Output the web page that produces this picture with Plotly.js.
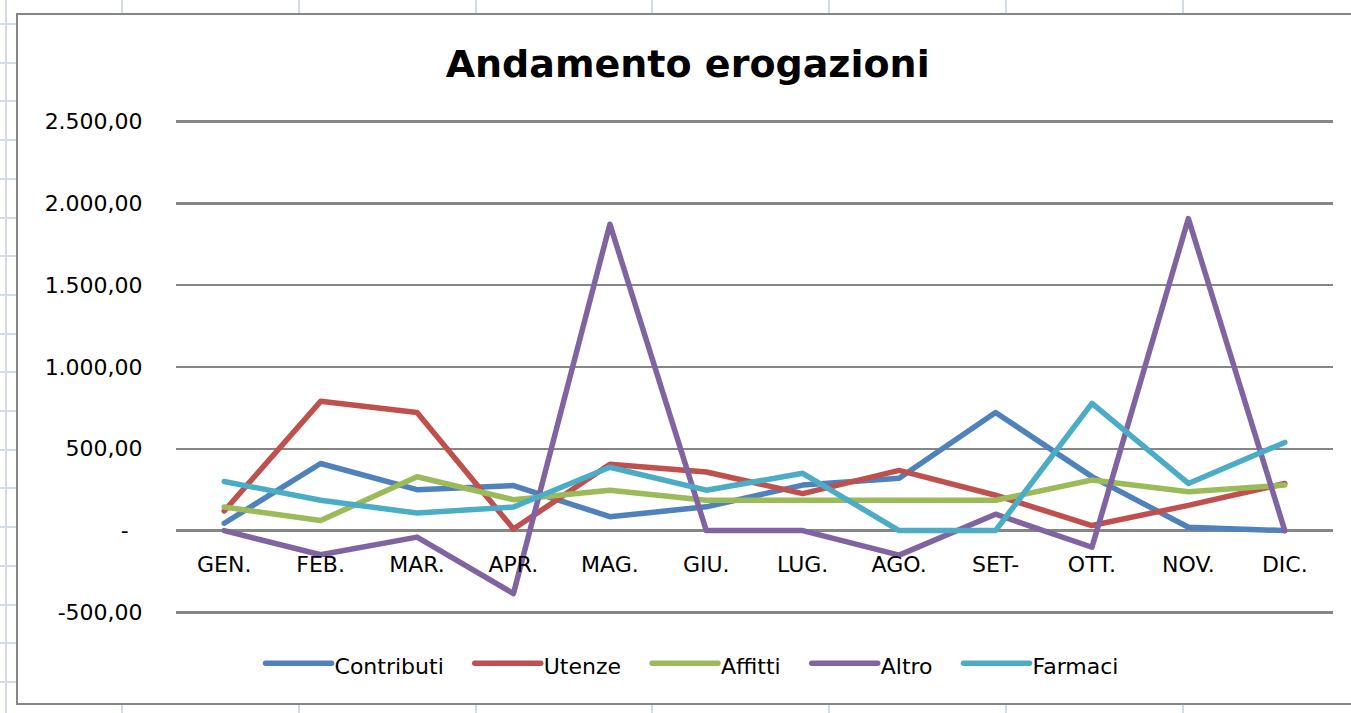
<!DOCTYPE html>
<html>
<head>
<meta charset="utf-8">
<script src="https://cdn.plot.ly/plotly-3.0.1.min.js"></script>
<style>
  html, body { margin: 0; padding: 0; width: 1351px; height: 713px; overflow: hidden; background: #ffffff; }
  #bg { position: absolute; left: 0; top: 0; width: 1351px; height: 713px; }
  .vl { position: absolute; top: 0; width: 2px; height: 713px; background: #D3DAE8; }
  .hl { position: absolute; left: 0; width: 20px; height: 2px; background: #D3DAE8; }
  #frame { position: absolute; left: 16px; top: 13px; width: 1360px; height: 688px; border: 2px solid #868686; background: #ffffff; }
  #chart { position: absolute; left: 0; top: 0; width: 1351px; height: 713px; }
  #chart .js-line { stroke-linejoin: round; stroke-linecap: round; }
  #chart .legendlines path { stroke-linecap: round; }
</style>
</head>
<body>
<div id="bg"></div>
<div id="frame"></div>
<div id="chart"></div>
<script>
// ---- data ----
const months = ['GEN.', 'FEB.', 'MAR.', 'APR.', 'MAG.', 'GIU.', 'LUG.', 'AGO.', 'SET-', 'OTT.', 'NOV.', 'DIC.'];
const contributi = [45, 410, 250, 275, 85, 145, 278, 320, 722, 330, 20, 0];
const utenze = [120, 790, 722, 10, 405, 358, 226, 368, 216, 31, 154, 288];
const affitti = [144, 62, 329, 189, 247, 185, 185, 185, 185, 309, 237, 278];
const altro = [0, -148, -40, -385, 1873, 0, 0, -150, 100, -102, 1907, 0];
const farmaci = [300, 185, 107, 144, 387, 247, 350, 0, 0, 778, 288, 539];

const seriesNames = ['Contributi', 'Utenze', 'Affitti', 'Altro', 'Farmaci'];
const seriesValues = [contributi, utenze, affitti, altro, farmaci];
const seriesColors = ['#4F81BD', '#C0504D', '#9BBB59', '#8064A2', '#4BACC6'];

const yTickVals = [2500, 2000, 1500, 1000, 500, 0, -500];
const yTickText = ['2.500,00', '2.000,00', '1.500,00', '1.000,00', '500,00', '-\u00a0\u00a0', '-500,00'];

// ---- spreadsheet background (decoration) ----
const bg = document.getElementById('bg');
for (let i = 0; i < 9; i++) {
  const d = document.createElement('div');
  d.className = 'vl';
  d.style.left = (i === 0 ? 5 : 121 + (i - 1) * 176.8) + 'px';
  bg.appendChild(d);
}
for (let i = 0; i < 19; i++) {
  const d = document.createElement('div');
  d.className = 'hl';
  d.style.top = (23 + i * 38.7) + 'px';
  bg.appendChild(d);
}

// ---- chart ----
const font = 'DejaVu Sans, sans-serif';
const yRange = [-510, 2510];
const traces = seriesNames.map((n, i) => ({
  type: 'scatter',
  mode: 'lines',
  name: n,
  x: months,
  y: seriesValues[i],
  line: { color: seriesColors[i], width: 5.5 },
  hoverinfo: 'skip'
}));

const layout = {
  width: 1351,
  height: 713,
  paper_bgcolor: 'rgba(0,0,0,0)',
  plot_bgcolor: 'rgba(0,0,0,0)',
  margin: { l: 176, r: 18, t: 120, b: 99 },
  title: {
    text: '<b>Andamento erogazioni</b>',
    font: { family: font, size: 38, color: '#000000' },
    x: 0.509, xref: 'container', xanchor: 'center',
    y: 0.91, yref: 'container', yanchor: 'middle'
  },
  xaxis: {
    type: 'category',
    range: [-0.5, months.length - 0.5],
    anchor: 'free',
    position: (0 - yRange[0]) / (yRange[1] - yRange[0]),
    showgrid: false,
    zeroline: false,
    showline: false,
    ticks: 'outside',
    ticklen: 14,
    tickcolor: 'rgba(0,0,0,0)',
    tickfont: { family: font, size: 22, color: '#000000' },
    fixedrange: true
  },
  yaxis: {
    range: yRange,
    tickvals: yTickVals,
    ticktext: yTickText,
    showgrid: true,
    gridcolor: '#868686',
    gridwidth: 2.5,
    zeroline: false,
    showline: false,
    ticks: 'outside',
    ticklen: 28,
    tickcolor: 'rgba(0,0,0,0)',
    tickfont: { family: font, size: 22, color: '#000000' },
    fixedrange: true
  },
  legend: {
    orientation: 'h',
    x: 0.446, xanchor: 'center',
    y: -0.1, yanchor: 'middle',
    font: { family: font, size: 22, color: '#000000' },
    bgcolor: 'rgba(0,0,0,0)'
  },
  showlegend: true
};

const gd = document.getElementById('chart');
Plotly.newPlot(gd, traces, layout, { staticPlot: true, displayModeBar: false }).then(() => {
  // Excel-style legend: long line swatches, text right after, fixed gap
  const symLen = 66, textPad = 3, gap = 31, centerX = 692;
  gd.querySelectorAll('.legend [clip-path]').forEach(el => el.removeAttribute('clip-path'));
  const items = Array.from(gd.querySelectorAll('.legend .traces'));
  if (!items.length) return;
  const parse = g => {
    const m = (g.getAttribute('transform') || '').match(/translate\(([-\d.e]+)[ ,]*([-\d.e]*)\)/);
    return m ? [parseFloat(m[1]) || 0, parseFloat(m[2]) || 0] : [0, 0];
  };
  const y0 = parse(items[0])[1];
  let x = 0;
  items.forEach(g => {
    const path = g.querySelector('.legendlines path');
    if (path) path.setAttribute('d', 'M0,0h' + symLen);
    const text = g.querySelector('text.legendtext');
    text.setAttribute('x', symLen + textPad);
    g.setAttribute('transform', 'translate(' + x + ',' + y0 + ')');
    const w = text.getComputedTextLength();
    x += symLen + textPad + w + gap;
  });
  const first = items[0].querySelector('.legendlines path').getBoundingClientRect();
  const lastText = items[items.length - 1].querySelector('text.legendtext').getBoundingClientRect();
  const shift = centerX - (first.left + lastText.right) / 2;
  items.forEach(g => {
    const p = parse(g);
    g.setAttribute('transform', 'translate(' + (p[0] + shift) + ',' + p[1] + ')');
    // vertically align text to the swatch line
    const path = g.querySelector('.legendlines path');
    const text = g.querySelector('text.legendtext');
    const pr = path.getBoundingClientRect();
    const tr = text.getBoundingClientRect();
    const dy = ((pr.top + pr.bottom) / 2 + 1) - (tr.top + tr.bottom) / 2 + 2;
    text.setAttribute('transform', 'translate(0,' + dy + ')');
  });
});
</script>
</body>
</html>
